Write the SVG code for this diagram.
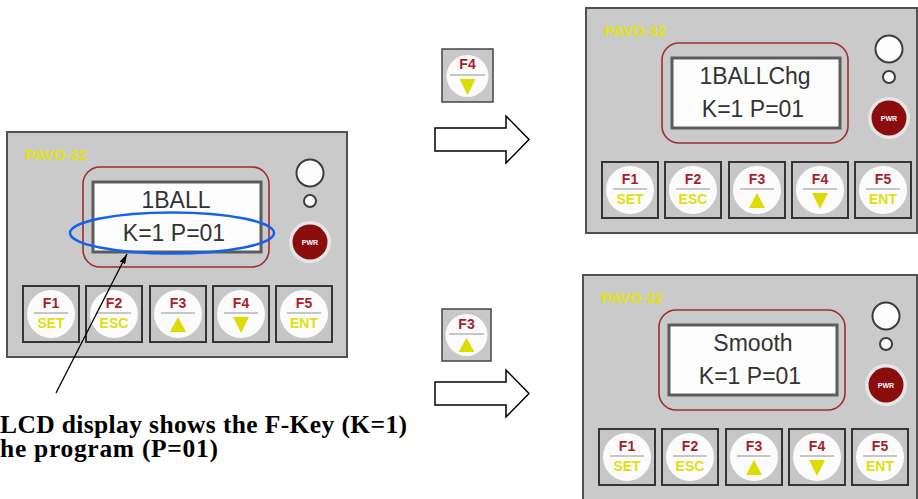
<svg xmlns="http://www.w3.org/2000/svg" width="918" height="499" viewBox="0 0 918 499">
<style>
.panel{fill:#cacaca;stroke:#505050;stroke-width:2}
.brand{font-family:"Liberation Sans",Arial,sans-serif;font-weight:bold;font-size:15px;fill:#e3e312}
.bezel{fill:none;stroke:#9c2e2e;stroke-width:1.6}
.lcd{fill:#fdfdfd;stroke:#5c5c5c;stroke-width:3}
.lcdt{font-family:"Liberation Sans",Arial,sans-serif;font-size:23px;fill:#333;text-anchor:middle}
.led{fill:#fdfdfd;stroke:#3c3c3c;stroke-width:2}
.halo{fill:#e6e6e6}
.pwr{fill:#8a0c0c}
.pwrt{font-family:"Liberation Sans",Arial,sans-serif;font-weight:bold;font-size:7px;fill:#fff;text-anchor:middle}
.key{fill:#c6c6c6;stroke:#353535;stroke-width:2}
.face{fill:#fbfbfb}
.kline{stroke:#b4b4b4;stroke-width:1.5}
.kf{font-family:"Liberation Sans",Arial,sans-serif;font-weight:bold;font-size:14px;fill:#a61f2b;text-anchor:middle}
.ky{font-family:"Liberation Sans",Arial,sans-serif;font-weight:bold;font-size:14px;fill:#e0e010;text-anchor:middle}
.tri{fill:#dcdc00}
.bigarrow{fill:#fff;stroke:#000;stroke-width:1.5}
.note{font-family:"Liberation Serif","Times New Roman",serif;font-weight:bold;font-size:25.5px;fill:#000}
</style>
<defs>
<marker id="ah" viewBox="0 0 10 6" refX="10" refY="3" markerWidth="10" markerHeight="6" markerUnits="userSpaceOnUse" orient="auto">
<path d="M0,0 L10,3 L0,6 Z" fill="#000"/>
</marker>
</defs>

<!-- Left panel -->
<g id="panel-main">
<rect class="panel" x="7" y="132" width="340" height="225"/>
<text class="brand" x="25" y="160">PAVO-32</text>
<rect class="bezel" x="83" y="167" width="186" height="100" rx="17"/>
<rect class="lcd" x="93" y="182" width="168" height="70"/>
<text class="lcdt" x="176" y="208">1BALL</text>
<text class="lcdt" x="174" y="241">K=1 P=01</text>
<circle class="led" cx="310" cy="173" r="13.5"/>
<circle class="led" cx="310" cy="201" r="6"/>
<circle class="halo" cx="310" cy="242" r="21"/>
<circle class="pwr" cx="310" cy="242" r="17.5"/>
<text class="pwrt" x="310" y="245">PWR</text>
<g id="main-f1"><rect class="key" x="23" y="286" width="56" height="56"/><circle class="face" cx="51" cy="314" r="24"/><line class="kline" x1="34" y1="313" x2="68" y2="313"/><text class="kf" x="51" y="308">F1</text><text class="ky" x="51" y="328">SET</text></g>
<g id="main-f2"><rect class="key" x="86" y="286" width="56" height="56"/><circle class="face" cx="114" cy="314" r="24"/><line class="kline" x1="97" y1="313" x2="131" y2="313"/><text class="kf" x="114" y="308">F2</text><text class="ky" x="114" y="328">ESC</text></g>
<g id="main-f3"><rect class="key" x="150" y="286" width="56" height="56"/><circle class="face" cx="178" cy="314" r="24"/><line class="kline" x1="161" y1="313" x2="195" y2="313"/><text class="kf" x="178" y="308">F3</text><polygon class="tri" points="170,332 186,332 178,317"/></g>
<g id="main-f4"><rect class="key" x="213" y="286" width="56" height="56"/><circle class="face" cx="241" cy="314" r="24"/><line class="kline" x1="224" y1="313" x2="258" y2="313"/><text class="kf" x="241" y="308">F4</text><polygon class="tri" points="233,317 249,317 241,333"/></g>
<g id="main-f5"><rect class="key" x="276" y="286" width="56" height="56"/><circle class="face" cx="304" cy="314" r="24"/><line class="kline" x1="287" y1="313" x2="321" y2="313"/><text class="kf" x="304" y="308">F5</text><text class="ky" x="304" y="328">ENT</text></g>
</g>

<!-- Top right panel -->
<g id="panel-f4" transform="translate(579,-124)">
<rect class="panel" x="7" y="132" width="331" height="225"/>
<text class="brand" x="25" y="160">PAVO-32</text>
<rect class="bezel" x="83" y="167" width="186" height="100" rx="17"/>
<rect class="lcd" x="93" y="182" width="168" height="70"/>
<text class="lcdt" x="176" y="208">1BALLChg</text>
<text class="lcdt" x="174" y="241">K=1 P=01</text>
<circle class="led" cx="310" cy="173" r="13.5"/>
<circle class="led" cx="310" cy="201" r="6"/>
<circle class="halo" cx="310" cy="242" r="21"/>
<circle class="pwr" cx="310" cy="242" r="17.5"/>
<text class="pwrt" x="310" y="245">PWR</text>
<g id="f4-f1"><rect class="key" x="23" y="286" width="56" height="56"/><circle class="face" cx="51" cy="314" r="24"/><line class="kline" x1="34" y1="313" x2="68" y2="313"/><text class="kf" x="51" y="308">F1</text><text class="ky" x="51" y="328">SET</text></g>
<g id="f4-f2"><rect class="key" x="86" y="286" width="56" height="56"/><circle class="face" cx="114" cy="314" r="24"/><line class="kline" x1="97" y1="313" x2="131" y2="313"/><text class="kf" x="114" y="308">F2</text><text class="ky" x="114" y="328">ESC</text></g>
<g id="f4-f3"><rect class="key" x="150" y="286" width="56" height="56"/><circle class="face" cx="178" cy="314" r="24"/><line class="kline" x1="161" y1="313" x2="195" y2="313"/><text class="kf" x="178" y="308">F3</text><polygon class="tri" points="170,332 186,332 178,317"/></g>
<g id="f4-f4"><rect class="key" x="213" y="286" width="56" height="56"/><circle class="face" cx="241" cy="314" r="24"/><line class="kline" x1="224" y1="313" x2="258" y2="313"/><text class="kf" x="241" y="308">F4</text><polygon class="tri" points="233,317 249,317 241,333"/></g>
<g id="f4-f5"><rect class="key" x="276" y="286" width="56" height="56"/><circle class="face" cx="304" cy="314" r="24"/><line class="kline" x1="287" y1="313" x2="321" y2="313"/><text class="kf" x="304" y="308">F5</text><text class="ky" x="304" y="328">ENT</text></g>
</g>

<!-- Bottom right panel -->
<g id="panel-f3" transform="translate(576,143)">
<rect class="panel" x="7" y="132" width="334" height="225"/>
<text class="brand" x="25" y="160">PAVO-32</text>
<rect class="bezel" x="83" y="167" width="186" height="100" rx="17"/>
<rect class="lcd" x="93" y="182" width="168" height="70"/>
<text class="lcdt" x="177" y="208">Smooth</text>
<text class="lcdt" x="174" y="241">K=1 P=01</text>
<circle class="led" cx="310" cy="173" r="13.5"/>
<circle class="led" cx="310" cy="201" r="6"/>
<circle class="halo" cx="310" cy="242" r="21"/>
<circle class="pwr" cx="310" cy="242" r="17.5"/>
<text class="pwrt" x="310" y="245">PWR</text>
<g id="f3-f1"><rect class="key" x="23" y="286" width="56" height="56"/><circle class="face" cx="51" cy="314" r="24"/><line class="kline" x1="34" y1="313" x2="68" y2="313"/><text class="kf" x="51" y="308">F1</text><text class="ky" x="51" y="328">SET</text></g>
<g id="f3-f2"><rect class="key" x="86" y="286" width="56" height="56"/><circle class="face" cx="114" cy="314" r="24"/><line class="kline" x1="97" y1="313" x2="131" y2="313"/><text class="kf" x="114" y="308">F2</text><text class="ky" x="114" y="328">ESC</text></g>
<g id="f3-f3"><rect class="key" x="150" y="286" width="56" height="56"/><circle class="face" cx="178" cy="314" r="24"/><line class="kline" x1="161" y1="313" x2="195" y2="313"/><text class="kf" x="178" y="308">F3</text><polygon class="tri" points="170,332 186,332 178,317"/></g>
<g id="f3-f4"><rect class="key" x="213" y="286" width="56" height="56"/><circle class="face" cx="241" cy="314" r="24"/><line class="kline" x1="224" y1="313" x2="258" y2="313"/><text class="kf" x="241" y="308">F4</text><polygon class="tri" points="233,317 249,317 241,333"/></g>
<g id="f3-f5"><rect class="key" x="276" y="286" width="56" height="56"/><circle class="face" cx="304" cy="314" r="24"/><line class="kline" x1="287" y1="313" x2="321" y2="313"/><text class="kf" x="304" y="308">F5</text><text class="ky" x="304" y="328">ENT</text></g>
</g>

<!-- Standalone keys -->
<g id="key-f4">
<rect x="442" y="49" width="51" height="53" fill="#c8c8c8" stroke="#444" stroke-width="1.5"/>
<circle class="face" cx="467.5" cy="76" r="21"/>
<line class="kline" x1="450" y1="75" x2="485" y2="75"/>
<text class="kf" x="467.5" y="69">F4</text>
<polygon class="tri" points="459.5,79 475.5,79 467.5,95"/>
</g>
<g id="key-f3">
<rect x="442" y="309" width="49" height="52" fill="#c8c8c8" stroke="#444" stroke-width="1.5"/>
<circle class="face" cx="466.5" cy="335" r="21"/>
<line class="kline" x1="449" y1="334" x2="484" y2="334"/>
<text class="kf" x="466.5" y="329">F3</text>
<polygon class="tri" points="458.5,352 474.5,352 466.5,338"/>
</g>

<!-- Connectors -->
<g id="connectors">
<polygon class="bigarrow" points="435,128 506,128 506,116 529,139.5 506,163 506,151 435,151"/>
<polygon class="bigarrow" points="435,382 506,382 506,370 529,393.5 506,417 506,405 435,405"/>
<ellipse cx="172" cy="233" rx="102" ry="20.5" fill="none" stroke="#1560ee" stroke-width="2.5"/>
<line x1="56" y1="393" x2="127" y2="254" stroke="#000" stroke-width="1.3" marker-end="url(#ah)"/>
</g>

<g id="annotation">
<text class="note" x="0" y="433" textLength="407" lengthAdjust="spacing">LCD display shows the F-Key (K=1)</text>
<text class="note" x="0" y="457" textLength="218" lengthAdjust="spacing">he program (P=01)</text>
</g>
</svg>
